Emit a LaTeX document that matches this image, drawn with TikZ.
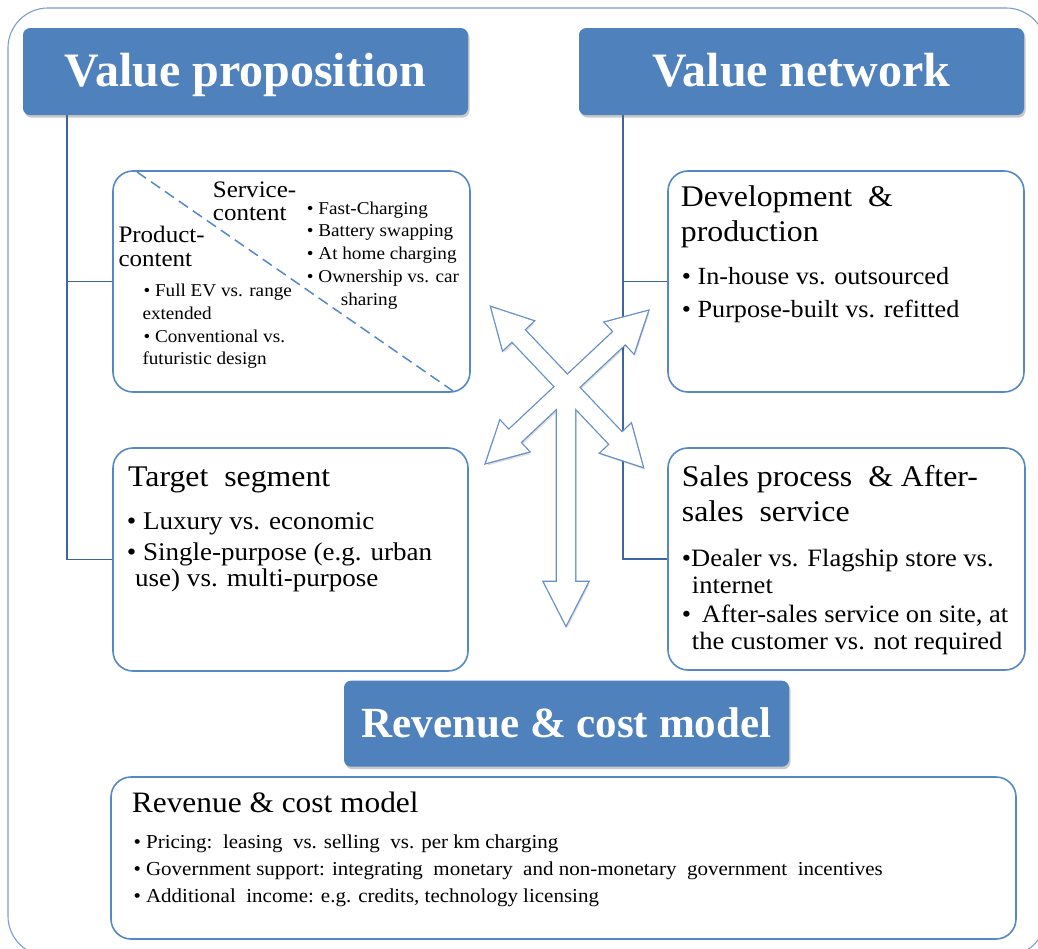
\documentclass[tikz,border=0pt]{standalone}
\usepackage{fontspec}
\setmainfont{Liberation Serif}[FakeStretch=1.06]
\newfontfamily\hdrfamily{Liberation Serif}
\usetikzlibrary{shadows}
\definecolor{hdrblue}{RGB}{79,129,189}
\definecolor{boxblue}{RGB}{86,136,198}
\definecolor{connblue}{RGB}{62,102,158}
\definecolor{frameblue}{RGB}{125,158,206}
\definecolor{arrowblue}{RGB}{104,143,200}
\newcommand\myfs[2]{\fontsize{#1}{#2}\selectfont}
\newcommand\crossarrows[1]{%
  \begin{scope}[shift={(567,387)},rotate=-46.5]
    \path[#1] (110,0) -- (71,21) -- (71,8.5) -- (-71,8.5) -- (-71,21) -- (-110,0)
      -- (-71,-21) -- (-71,-8.5) -- (71,-8.5) -- (71,-21) -- cycle;
  \end{scope}
  \begin{scope}[shift={(567,387)},rotate=43.2]
    \path[#1] (111,0) -- (72,21) -- (72,8.5) -- (-72,8.5) -- (-72,21) -- (-111,0)
      -- (-72,-21) -- (-72,-8.5) -- (72,-8.5) -- (72,-21) -- cycle;
  \end{scope}
  \path[#1] (557,387) -- (557,582) -- (544,582) -- (566,625) -- (588,582) -- (575,582) -- (575,387) -- cycle;
}
\begin{document}
\begin{tikzpicture}[x=1pt,y=-1pt,
  hdr/.style={rectangle, rounded corners=7pt, fill=hdrblue, text=white,
    font=\hdrfamily\bfseries\myfs{48}{52}, inner sep=0pt,
    drop shadow={shadow xshift=1.5pt, shadow yshift=-2.5pt, opacity=0.35, fill=black!60}},
  cbox/.style={rectangle, rounded corners=20pt, draw=boxblue, line width=1.6pt, fill=white, inner sep=0pt},
  conn/.style={draw=connblue, line width=1.6pt},
  tl/.style={anchor=base west, inner sep=0pt},
  ttl/.style={tl, font=\myfs{30}{33}},
  bul/.style={tl, font=\myfs{24.7}{27}},
  sm/.style={tl, font=\myfs{18.1}{20}},
  smt/.style={tl, font=\myfs{23.6}{25}},
  rb/.style={tl, font=\myfs{19.8}{22}}]
\useasboundingbox (0,0) rectangle (1038,949);
\fill[white] (0,0) rectangle (1038,949);
% outer frame
\draw[frameblue, line width=1.1pt, rounded corners=40pt] (8,8) rectangle (1046,956);

% boxes
\node[cbox, minimum width=357pt, minimum height=221pt] (prod) at (291.5,281.5) {};
\node[cbox, minimum width=355pt, minimum height=223pt] (target) at (290.5,559.5) {};
\node[cbox, minimum width=356pt, minimum height=221pt] (dev) at (846,281.5) {};
\node[cbox, minimum width=357pt, minimum height=222pt] (sales) at (846.5,559) {};
\node[cbox, minimum width=905pt, minimum height=162pt] (rev) at (563.5,858) {};

% connectors
\coordinate (vproot) at (67,115);
\coordinate (vnroot) at (623,115);
\draw[conn] (vproot) |- (target.west);
\draw[conn] (vproot |- prod.west) -- (prod.west);
\draw[conn] (vnroot) |- (sales.west);
\draw[conn] (vnroot |- dev.west) -- (dev.west);

% headers
\node[hdr, minimum width=445pt, minimum height=87pt, text height=40.8pt, text depth=10pt] (vp) at (245.5,71.6) {Value proposition};
\node[hdr, minimum width=445pt, minimum height=87pt, text height=40.8pt, text depth=10pt] (vn) at (801.5,71.6) {Value network};
\node[hdr, minimum width=445pt, minimum height=86pt, text height=35.6pt, text depth=9pt, font=\hdrfamily\bfseries\myfs{43}{46}] (rh) at (566.5,723.7) {Revenue \& cost model};

% dashed diagonal in product box
\coordinate (dgA) at (137,172);
\coordinate (dgB) at (453,391);
\draw[boxblue, line width=1.5pt, dash pattern=on 11pt off 6pt] (dgA) -- (dgB);

% product/service content
\node[smt] (s1) at (212.7,197.5) {Service-};
\node[smt] (s2) at (212.7,221) {content};
\node[smt] (p1) at (118.3,243) {Product-};
\node[smt] (p2) at (118.3,267) {content};
\node[sm] (s3) at (306.7,214.3) {• Fast-Charging};
\node[sm] (s4) at (306.7,236.5) {• Battery swapping};
\node[sm] (s5) at (306.7,259.3) {• At home charging};
\node[sm] (s6) at (306.7,282.7) {• Ownership vs. car};
\node[sm] (s7) at (340.7,305.5) {sharing};
\node[sm] (p3) at (143.3,296.7) {• Full EV vs. range};
\node[sm] (p4) at (142.3,319.3) {extended};
\node[sm] (p5) at (143.3,342.7) {• Conventional vs.};
\node[sm] (p6) at (142.3,364.5) {futuristic design};

% target segment
\node[ttl] (t1) at (128,486.7) {Target\ \ segment};
\node[tl, font=\myfs{25.5}{28}] (t2) at (126.7,529.3) {• Luxury vs. economic};
\node[tl, font=\myfs{25.5}{28}] (t3) at (126.7,560) {• Single-purpose (e.g. urban};
\node[tl, font=\myfs{25.5}{28}] (t4) at (135,586.7) {use) vs. multi-purpose};

% development
\node[ttl] (d1) at (680.7,206.7) {Development \ \&};
\node[ttl] (d2) at (680.7,241.7) {production};
\node[bul] (d3) at (681.7,285) {• In-house vs. outsourced};
\node[bul] (d4) at (681.7,317.3) {• Purpose-built vs. refitted};

% sales
\node[ttl] (a1) at (681.7,486.7) {Sales process \ \& After-};
\node[ttl] (a2) at (681.7,521) {sales\ \ service};
\node[bul, font=\myfs{25}{26}] (a3) at (681.7,566) {•Dealer vs. Flagship store vs.};
\node[bul, font=\myfs{25}{26}] (a4) at (691.7,593) {internet};
\node[bul, font=\myfs{25}{26}] (a5) at (681.7,622) {• \,After-sales service on site, at};
\node[bul, font=\myfs{25}{26}] (a6) at (691.7,649) {the customer vs. not required};

% revenue box
\node[tl, font=\myfs{29.6}{32}] (r1) at (131.7,812) {Revenue \& cost model};
\node[rb] (r2) at (133.3,848) {• Pricing:\ \ leasing\ \ vs. selling\ \ vs. per km charging};
\node[rb] (r3) at (133.3,875) {• Government support: integrating\ \ monetary\ \ and non-monetary\ \ government\ \ incentives};
\node[rb] (r4) at (133.3,902) {• Additional\ \ income: e.g. credits, technology licensing};

% central arrows
\crossarrows{fill=black, fill opacity=0.12, transform canvas={shift={(1.5pt,-2.5pt)}}}
\crossarrows{draw=arrowblue, line width=2.6pt, line join=miter}
\crossarrows{fill=white}
\end{tikzpicture}
\end{document}
